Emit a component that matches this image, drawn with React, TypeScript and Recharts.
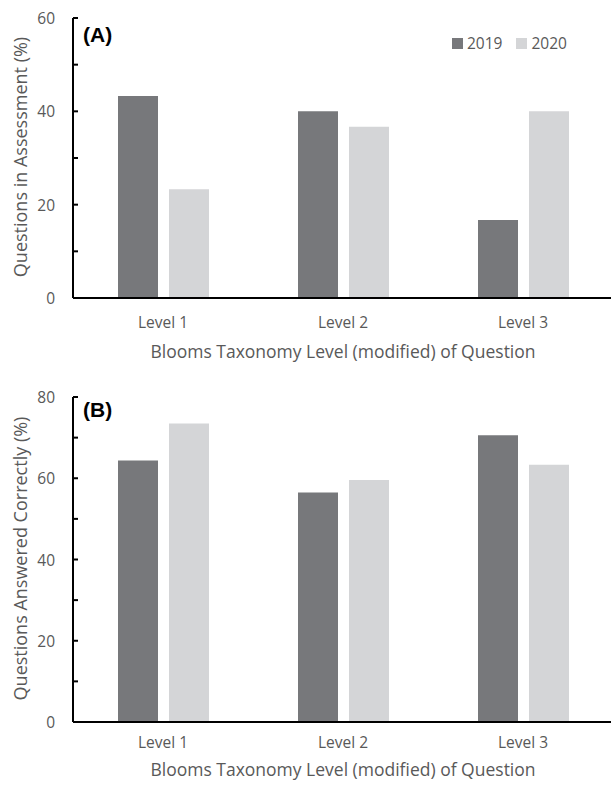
import React from "react";
import { BarChart, Bar, XAxis, YAxis } from "recharts";

const levels = ["Level 1", "Level 2", "Level 3"];
const years = ["2019", "2020"];

// (A) share of questions in the assessment, %
const share2019 = [43.3, 40.0, 16.7];
const share2020 = [23.3, 36.7, 40.0];

// (B) questions answered correctly, %
const correct2019 = [64.4, 56.5, 70.6];
const correct2020 = [73.5, 59.6, 63.3];

const ticksA = [0, 10, 20, 30, 40, 50, 60];
const ticksB = [0, 10, 20, 30, 40, 50, 60, 70, 80];

const FONT = '"Open Sans", sans-serif';
const DARK = "#77787b";
const LIGHT = "#d4d5d7";
const TEXT = "#595959";

const toRows = (a: number[], b: number[]) =>
  levels.map((level, i) => ({ level, y2019: a[i], y2020: b[i] }));

function YTick(props: any) {
  const { x, y, payload } = props;
  return (
    <g>
      <line x1={x} x2={x + 5} y1={y} y2={y} stroke="#000" strokeWidth={2} />
      {payload.value % 20 === 0 && (
        <text
          x={x - 18}
          y={y}
          textAnchor="end"
          dominantBaseline="central"
          fill={TEXT}
          fontSize={15.5}
          fontFamily={FONT}
        >
          {payload.value}
        </text>
      )}
    </g>
  );
}

function XTick(props: any) {
  const { x, y, payload, offset } = props;
  return (
    <text
      x={x}
      y={y + offset}
      textAnchor="middle"
      dominantBaseline="central"
      fill={TEXT}
      fontSize={15.5}
      fontFamily={FONT}
    >
      {payload.value}
    </text>
  );
}

interface PanelProps {
  rows: Array<{ level: string; y2019: number; y2020: number }>;
  ticks: number[];
  yTitle: string;
  tag: string;
  tagTop: number;
  top: number;
  height: number;
  xHeight: number;
  tickOffset: number;
  titleOffset: number;
  legend?: boolean;
}

function Panel(p: PanelProps) {
  const { rows, ticks, yTitle, tag, tagTop, top, height, xHeight, tickOffset, titleOffset, legend } = p;
  return (
    <div style={{ position: "absolute", left: 0, top, width: 614, height }}>
      <BarChart
        width={614}
        height={height}
        data={rows}
        margin={{ top: 18, right: 1, left: 0, bottom: 0 }}
        barGap={11}
      >
        <XAxis
          dataKey="level"
          height={xHeight}
          tickLine={false}
          tickSize={0}
          tickMargin={0}
          axisLine={{ stroke: "#000", strokeWidth: 2 }}
          tick={<XTick offset={tickOffset} />}
          label={(lp: any) => {
            const vb = lp.viewBox;
            return (
              <text
                x={vb.x + vb.width / 2}
                y={vb.y + titleOffset}
                textAnchor="middle"
                dominantBaseline="central"
                fill={TEXT}
                fontSize={17.5}
                fontFamily={FONT}
              >
                Blooms Taxonomy Level (modified) of Question
              </text>
            );
          }}
        />
        <YAxis
          width={73}
          domain={[ticks[0], ticks[ticks.length - 1]]}
          ticks={ticks}
          interval={0}
          tickLine={false}
          tickSize={0}
          tickMargin={0}
          axisLine={{ stroke: "#000", strokeWidth: 2 }}
          tick={<YTick />}
          label={(lp: any) => {
            const vb = lp.viewBox;
            const cy = vb.y + vb.height / 2 - 1;
            return (
              <text
                x={20}
                y={cy}
                transform={`rotate(-90 20 ${cy})`}
                textAnchor="middle"
                dominantBaseline="central"
                fill={TEXT}
                fontSize={18}
                fontFamily={FONT}
              >
                {yTitle}
              </text>
            );
          }}
        />
        <Bar dataKey="y2019" name={years[0]} fill={DARK} barSize={40} isAnimationActive={false} />
        <Bar dataKey="y2020" name={years[1]} fill={LIGHT} barSize={40} isAnimationActive={false} />
      </BarChart>
      <div
        style={{
          position: "absolute",
          left: 83,
          top: tagTop,
          fontFamily: '"Liberation Sans", Arial, sans-serif',
          fontWeight: "bold",
          fontSize: 21,
          lineHeight: "21px",
          color: "#000",
        }}
      >
        {tag}
      </div>
      {legend && (
        <div
          style={{
            position: "absolute",
            left: 452,
            top: 33,
            display: "flex",
            alignItems: "center",
            fontFamily: FONT,
            fontSize: 15.5,
            lineHeight: "20px",
            color: TEXT,
          }}
        >
          {years.map((y, i) => (
            <span key={y} style={{ display: "flex", alignItems: "center", marginRight: i === 0 ? 14 : 0 }}>
              <span
                style={{
                  display: "inline-block",
                  width: 11,
                  height: 11,
                  background: i === 0 ? DARK : LIGHT,
                  marginRight: 4,
                }}
              />
              {y}
            </span>
          ))}
        </div>
      )}
    </div>
  );
}

export default function App() {
  return (
    <div
      style={{
        position: "absolute",
        left: 0,
        top: 0,
        width: 611,
        height: 785,
        overflow: "hidden",
        background: "#fff",
      }}
    >
      <Panel
        rows={toRows(share2019, share2020)}
        ticks={ticksA}
        yTitle="Questions in Assessment (%)"
        tag="(A)"
        tagTop={24}
        top={0}
        height={380}
        xHeight={82}
        tickOffset={23.5}
        titleOffset={52.5}
        legend
      />
      <Panel
        rows={toRows(correct2019, correct2020)}
        ticks={ticksB}
        yTitle="Questions Answered Correctly (%)"
        tag="(B)"
        tagTop={20}
        top={379}
        height={406}
        xHeight={63}
        tickOffset={19.5}
        titleOffset={46.5}
      />
    </div>
  );
}
